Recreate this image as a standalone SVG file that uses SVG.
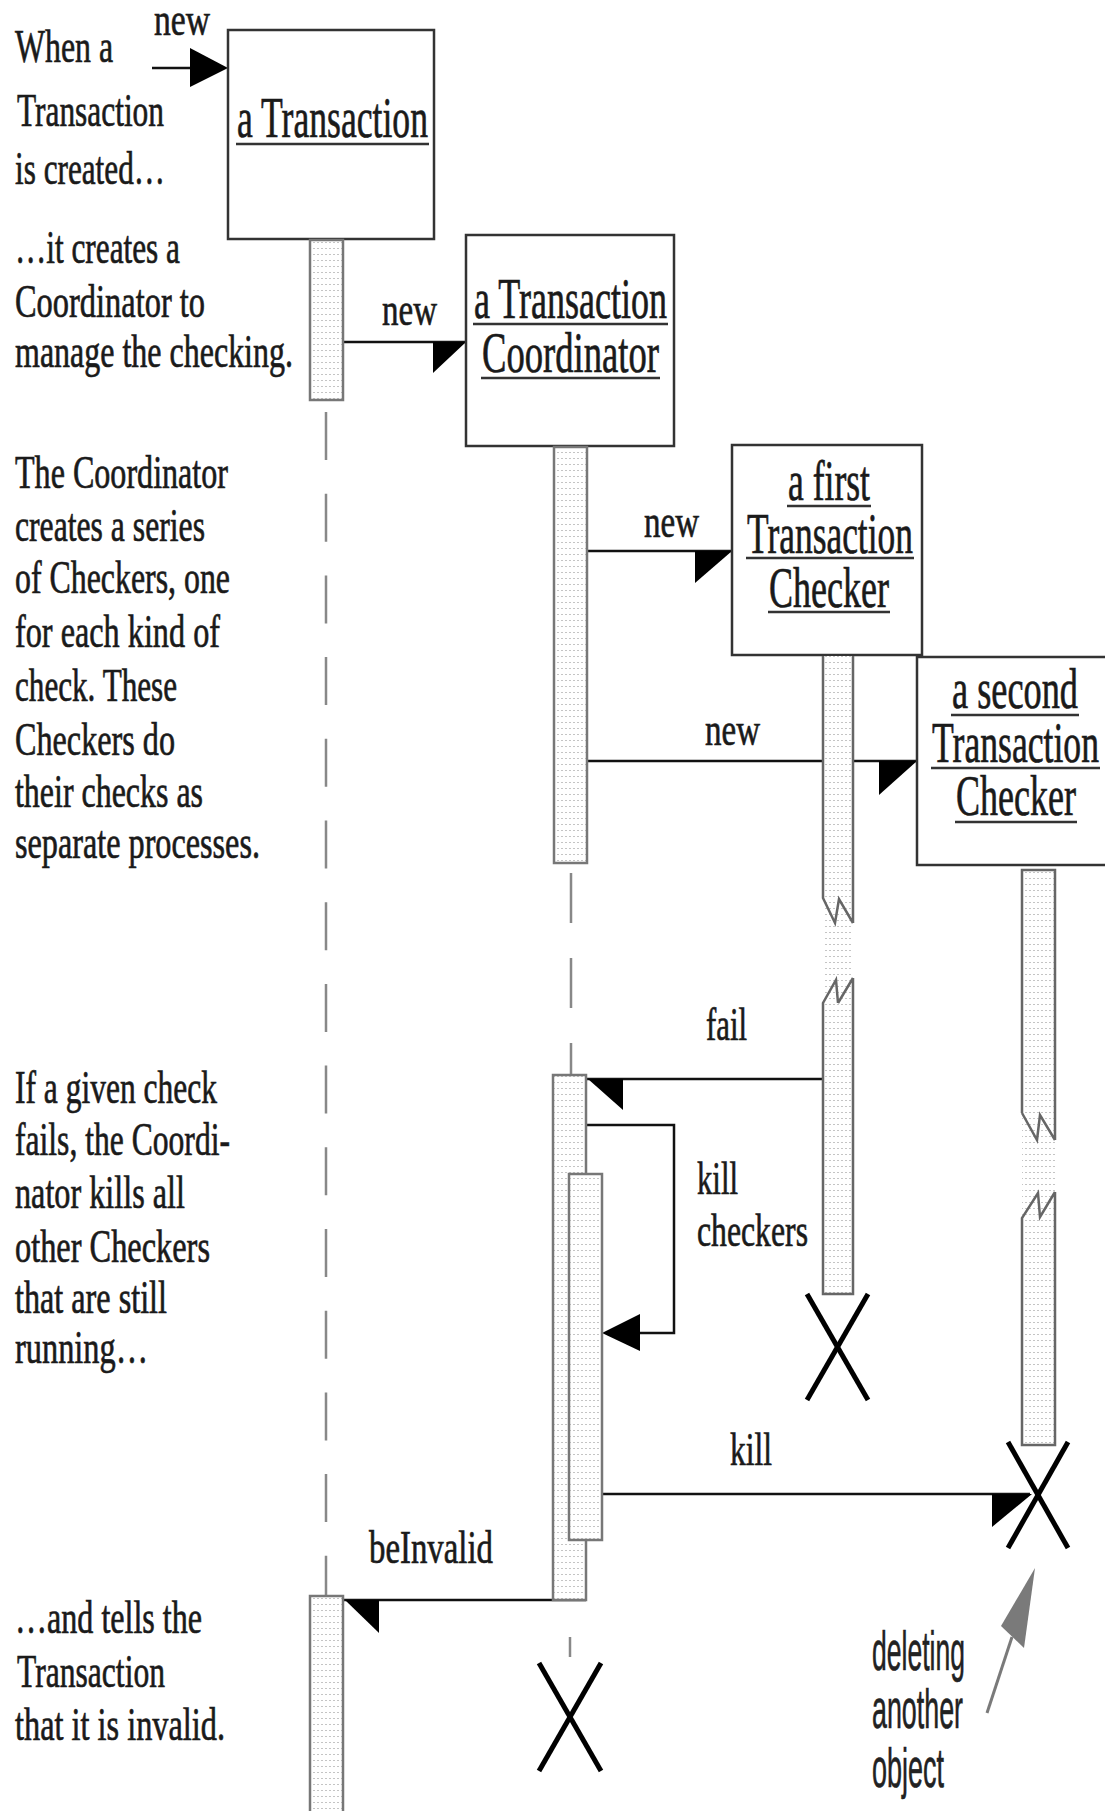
<svg xmlns="http://www.w3.org/2000/svg" width="1105" height="1811" viewBox="0 0 1105 1811">
<style>
.note{font-family:"Liberation Serif","DejaVu Serif",serif;font-size:47px;fill:#1a1a1a;stroke:#1a1a1a;stroke-width:0.7}
.lbl{font-family:"Liberation Serif","DejaVu Serif",serif;font-size:47px;fill:#1a1a1a;stroke:#1a1a1a;stroke-width:0.7}
.obj{font-family:"Liberation Serif","DejaVu Serif",serif;font-size:57px;fill:#1a1a1a;stroke:#1a1a1a;stroke-width:0.7}
.sans{font-family:"Liberation Sans","DejaVu Sans",sans-serif;font-size:56px;fill:#222;stroke:#222;stroke-width:0.6}
.box{fill:#fff;stroke:#333;stroke-width:2.5}
.ul{stroke:#333;stroke-width:2.5}
.act{fill:url(#dots);stroke:#777;stroke-width:2.5}
.actf{fill:url(#dots);stroke:none}
.edge{fill:none;stroke:#666;stroke-width:2.5}
.life{stroke:#888;stroke-width:2.5;fill:none}
.msg{stroke:#111;stroke-width:2.5;fill:none}
.head{fill:#000}
.x{stroke:#000;stroke-width:5;stroke-linecap:butt}
</style>
<defs>
<pattern id="dots" width="8" height="6" patternUnits="userSpaceOnUse">
<rect width="8" height="6" fill="#fff"/>
<rect x="1" y="2" width="2" height="1" fill="#c4c4c4"/>
<rect x="5" y="2" width="2" height="1" fill="#c4c4c4"/>
</pattern>
</defs>

<g id="notes">
<text class="note" x="15" y="62" textLength="98" lengthAdjust="spacingAndGlyphs">When a</text>
<text class="note" x="17" y="126" textLength="147" lengthAdjust="spacingAndGlyphs">Transaction</text>
<text class="note" x="15" y="184" textLength="150" lengthAdjust="spacingAndGlyphs">is created…</text>
<text class="note" x="15" y="263" textLength="165" lengthAdjust="spacingAndGlyphs">…it creates a</text>
<text class="note" x="15" y="317" textLength="190" lengthAdjust="spacingAndGlyphs">Coordinator to</text>
<text class="note" x="15" y="367" textLength="278" lengthAdjust="spacingAndGlyphs">manage the checking.</text>
<text class="note" x="15" y="488" textLength="213" lengthAdjust="spacingAndGlyphs">The Coordinator</text>
<text class="note" x="15" y="541" textLength="190" lengthAdjust="spacingAndGlyphs">creates a series</text>
<text class="note" x="15" y="593" textLength="215" lengthAdjust="spacingAndGlyphs">of Checkers, one</text>
<text class="note" x="15" y="647" textLength="205" lengthAdjust="spacingAndGlyphs">for each kind of</text>
<text class="note" x="15" y="701" textLength="162" lengthAdjust="spacingAndGlyphs">check. These</text>
<text class="note" x="15" y="755" textLength="160" lengthAdjust="spacingAndGlyphs">Checkers do</text>
<text class="note" x="15" y="807" textLength="188" lengthAdjust="spacingAndGlyphs">their checks as</text>
<text class="note" x="15" y="858" textLength="245" lengthAdjust="spacingAndGlyphs">separate processes.</text>
<text class="note" x="15" y="1103" textLength="202" lengthAdjust="spacingAndGlyphs">If a given check</text>
<text class="note" x="15" y="1155" textLength="215" lengthAdjust="spacingAndGlyphs">fails, the Coordi-</text>
<text class="note" x="15" y="1208" textLength="170" lengthAdjust="spacingAndGlyphs">nator kills all</text>
<text class="note" x="15" y="1262" textLength="195" lengthAdjust="spacingAndGlyphs">other Checkers</text>
<text class="note" x="15" y="1313" textLength="152" lengthAdjust="spacingAndGlyphs">that are still</text>
<text class="note" x="15" y="1363" textLength="133" lengthAdjust="spacingAndGlyphs">running…</text>
<text class="note" x="15" y="1633" textLength="187" lengthAdjust="spacingAndGlyphs">…and tells the</text>
<text class="note" x="17" y="1687" textLength="148" lengthAdjust="spacingAndGlyphs">Transaction</text>
<text class="note" x="15" y="1740" textLength="210" lengthAdjust="spacingAndGlyphs">that it is invalid.</text>
<text class="sans" x="872" y="1670" textLength="93" lengthAdjust="spacingAndGlyphs">deleting</text>
<text class="sans" x="872" y="1728" textLength="91" lengthAdjust="spacingAndGlyphs">another</text>
<text class="sans" x="872" y="1787" textLength="72" lengthAdjust="spacingAndGlyphs">object</text>
<line x1="987" y1="1713" x2="1012" y2="1637" stroke="#7a7a7a" stroke-width="3"/>
<polygon points="1035,1568 1001,1626 1024,1648" fill="#7a7a7a"/>
</g>

<g id="lifelines">
<line class="life" x1="326" y1="412" x2="326" y2="1596" stroke-dasharray="48 33.7"/>
<line class="life" x1="571" y1="873" x2="571" y2="1075" stroke-dasharray="50 35"/>
<line class="life" x1="570" y1="1637" x2="570" y2="1657"/>
</g>

<g id="connectors">
<line class="msg" x1="152" y1="68" x2="200" y2="68"/>
<polygon class="head" points="190,48 228,68 190,87"/>
<text class="lbl" x="154" y="35" textLength="56" lengthAdjust="spacingAndGlyphs">new</text>

<line class="msg" x1="343" y1="342" x2="466" y2="342"/>
<polygon class="head" points="433,342 466,342 433,373"/>
<text class="lbl" x="382" y="325" textLength="55" lengthAdjust="spacingAndGlyphs">new</text>

<line class="msg" x1="587" y1="551" x2="732" y2="551"/>
<polygon class="head" points="695,551 732,551 695,583"/>
<text class="lbl" x="644" y="537" textLength="55" lengthAdjust="spacingAndGlyphs">new</text>

<line class="msg" x1="587" y1="761" x2="917" y2="761"/>
<polygon class="head" points="879,761 917,761 879,795"/>
<text class="lbl" x="705" y="745" textLength="55" lengthAdjust="spacingAndGlyphs">new</text>

<line class="msg" x1="823" y1="1079" x2="586" y2="1079"/>
<polygon class="head" points="588,1079 623,1079 623,1110"/>
<text class="lbl" x="706" y="1040" textLength="41" lengthAdjust="spacingAndGlyphs">fail</text>

<polyline class="msg" points="586,1125 674,1125 674,1333 630,1333"/>
<polygon class="head" points="602,1333 640,1314 640,1351"/>
<text class="lbl" x="697" y="1194" textLength="41" lengthAdjust="spacingAndGlyphs">kill</text>
<text class="lbl" x="697" y="1246" textLength="111" lengthAdjust="spacingAndGlyphs">checkers</text>

<line class="msg" x1="602" y1="1494" x2="1030" y2="1494"/>
<polygon class="head" points="992,1494 1032,1494 992,1527"/>
<text class="lbl" x="730" y="1465" textLength="42" lengthAdjust="spacingAndGlyphs">kill</text>

<line class="msg" x1="586" y1="1600" x2="343" y2="1600"/>
<polygon class="head" points="345,1600 379,1600 379,1633"/>
<text class="lbl" x="369" y="1563" textLength="124" lengthAdjust="spacingAndGlyphs">beInvalid</text>
</g>

<g id="transaction">
<rect class="box" x="228" y="30" width="206" height="209"/>
<text class="obj" x="237" y="137" textLength="191" lengthAdjust="spacingAndGlyphs">a Transaction</text>
<line class="ul" x1="236" y1="144" x2="429" y2="144"/>
<rect class="act" x="310" y="240" width="33" height="160"/>
<rect class="act" x="310" y="1596" width="33" height="230"/>
</g>

<g id="coordinator">
<rect class="box" x="466" y="235" width="208" height="211"/>
<text class="obj" x="474" y="318" textLength="193" lengthAdjust="spacingAndGlyphs">a Transaction</text>
<line class="ul" x1="473" y1="324" x2="668" y2="324"/>
<text class="obj" x="482" y="372" textLength="177" lengthAdjust="spacingAndGlyphs">Coordinator</text>
<line class="ul" x1="481" y1="378" x2="660" y2="378"/>
<rect class="act" x="554" y="447" width="33" height="416"/>
<rect class="act" x="553" y="1075" width="33" height="525"/>
<rect class="act" x="569" y="1174" width="33" height="366"/>
<line class="x" x1="539" y1="1663" x2="601" y2="1771"/>
<line class="x" x1="601" y1="1663" x2="539" y2="1771"/>
</g>

<g id="checker1">
<rect class="box" x="732" y="445" width="190" height="210"/>
<text class="obj" x="788" y="500" textLength="82" lengthAdjust="spacingAndGlyphs">a first</text>
<line class="ul" x1="787" y1="506" x2="871" y2="506"/>
<text class="obj" x="747" y="553" textLength="166" lengthAdjust="spacingAndGlyphs">Transaction</text>
<line class="ul" x1="746" y1="558" x2="914" y2="558"/>
<text class="obj" x="769" y="607" textLength="120" lengthAdjust="spacingAndGlyphs">Checker</text>
<line class="ul" x1="768" y1="612" x2="890" y2="612"/>
<rect class="actf" x="823" y="656" width="30" height="638"/>
<path class="edge" d="M823,656 V898 L835,923 L839,899 L853,923 M853,656 V923 M853,978 V1294 H823 V1003 L836,980 L838,1003 M838,1003 L853,978"/>
<line class="x" x1="807" y1="1294" x2="868" y2="1400"/>
<line class="x" x1="868" y1="1294" x2="807" y2="1400"/>
</g>

<g id="checker2">
<rect class="box" x="917" y="657" width="200" height="208"/>
<text class="obj" x="952" y="708" textLength="126" lengthAdjust="spacingAndGlyphs">a second</text>
<line class="ul" x1="951" y1="715" x2="1079" y2="715"/>
<text class="obj" x="932" y="762" textLength="167" lengthAdjust="spacingAndGlyphs">Transaction</text>
<line class="ul" x1="931" y1="768" x2="1100" y2="768"/>
<text class="obj" x="956" y="815" textLength="120" lengthAdjust="spacingAndGlyphs">Checker</text>
<line class="ul" x1="955" y1="822" x2="1077" y2="822"/>
<rect class="actf" x="1022" y="870" width="33" height="575"/>
<path class="edge" d="M1022,1113 V870 H1055 V1140 M1022,1113 L1037,1140 L1040,1115 L1055,1140 M1055,1192 V1445 H1022 V1218 L1038,1193 L1040,1217 L1055,1192"/>
<line class="x" x1="1008" y1="1442" x2="1068" y2="1548"/>
<line class="x" x1="1068" y1="1442" x2="1008" y2="1548"/>
</g>
</svg>
